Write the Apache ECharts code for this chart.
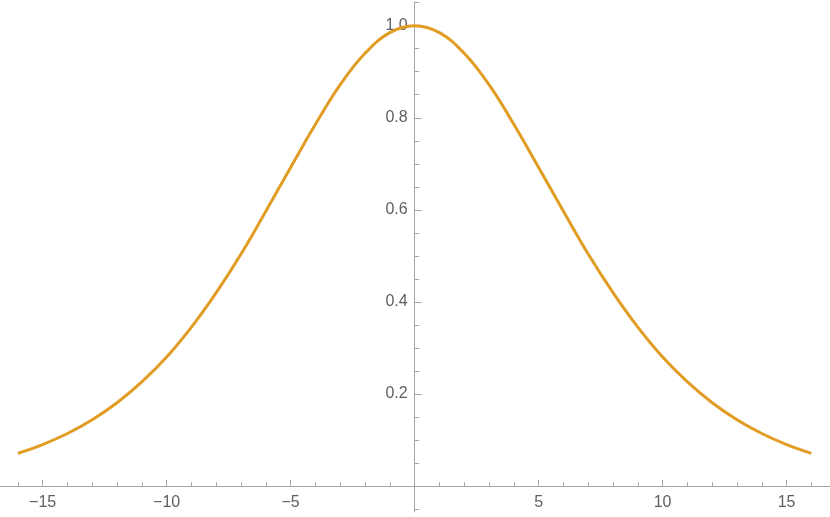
<!DOCTYPE html>
<html>
<head>
<meta charset="utf-8">
<script src="https://cdn.jsdelivr.net/npm/echarts@6/dist/echarts.min.js"></script>
<style>
html,body{margin:0;padding:0;background:#fff;}
#chart{width:830px;height:517px;}
</style>
</head>
<body>
<div id="chart"></div>
<script>
// x positions sampled along the curve
const xValues = [-16,-15,-14,-13,-12,-11,-10,-9,-8,-7,-6,-5,-4,-3,-2,-1,0,1,2,3,4,5,6,7,8,9,10,11,12,13,14,15,16];
// y values
const yValues = [0.071,0.090,0.114,0.144,0.181,0.226,0.280,0.345,0.420,0.504,0.597,0.692,0.786,0.872,0.940,0.985,1.000,0.985,0.940,0.872,0.786,0.692,0.597,0.504,0.420,0.345,0.280,0.226,0.181,0.144,0.114,0.090,0.071];
// tick labels
const xMajorTicks = [-15,-10,-5,5,10,15];
const xMinorTicks = [-16,-14,-13,-12,-11,-9,-8,-7,-6,-4,-3,-2,-1,1,2,3,4,6,7,8,9,11,12,13,14,16];
const yMajorTicks = [0.2,0.4,0.6,0.8,1.0];
const yMinorTicks = [-0.05,0.05,0.1,0.15,0.25,0.3,0.35,0.45,0.5,0.55,0.65,0.7,0.75,0.85,0.9,0.95,1.05];

const W = 830, H = 517, G_TOP = 2, G_BOTTOM = 5;
const axisColor = '#a6a6a6';
const labelStyle = {color:'#5f5f5f', fontSize:16, fontFamily:'Liberation Sans, Arial, sans-serif'};
const X_MIN = -16.72, X_MAX = 16.75, Y_MIN = -0.0565, Y_MAX = 1.0515;
// place the axes where the other axis's zero lies
const yAxisOffset = -((0 - X_MIN) / (X_MAX - X_MIN)) * W;
const xAxisOffset = -((0 - Y_MIN) / (Y_MAX - Y_MIN)) * (H - G_TOP - G_BOTTOM);

const chart = echarts.init(document.getElementById('chart'));
chart.setOption({
  animation:false,
  grid:{left:0,right:0,top:G_TOP,bottom:G_BOTTOM,containLabel:false,outerBoundsMode:'none'},
  xAxis:[
    {type:'value',min:X_MIN,max:X_MAX,position:'bottom',offset:xAxisOffset,
     axisLine:{show:true,onZero:false,lineStyle:{color:axisColor,width:1}},
     axisTick:{show:true,inside:true,length:6,customValues:xMajorTicks,lineStyle:{color:axisColor}},
     axisLabel:{show:true,customValues:xMajorTicks,margin:9,...labelStyle,
       formatter:v=>String(v).replace('-','\u2212')},
     splitLine:{show:false}},
    {type:'value',min:X_MIN,max:X_MAX,position:'bottom',offset:xAxisOffset,
     axisLine:{show:false,onZero:false},
     axisTick:{show:true,inside:true,length:3.5,customValues:xMinorTicks,lineStyle:{color:axisColor}},
     axisLabel:{show:false},
     splitLine:{show:false}}
  ],
  yAxis:[
    {type:'value',min:Y_MIN,max:Y_MAX,position:'left',offset:yAxisOffset,
     axisLine:{show:true,onZero:false,lineStyle:{color:axisColor,width:1}},
     axisTick:{show:true,inside:true,length:7,customValues:yMajorTicks,lineStyle:{color:axisColor}},
     axisLabel:{show:true,customValues:yMajorTicks,margin:7,...labelStyle,
       formatter:v=>v.toFixed(1)},
     splitLine:{show:false}},
    {type:'value',min:Y_MIN,max:Y_MAX,position:'left',offset:yAxisOffset,
     axisLine:{show:false,onZero:false},
     axisTick:{show:true,inside:true,length:4.5,customValues:yMinorTicks,lineStyle:{color:axisColor}},
     axisLabel:{show:false},
     splitLine:{show:false}}
  ],
  series:[{
    type:'line',xAxisIndex:0,yAxisIndex:0,
    data:xValues.map((x,i)=>[x,yValues[i]]),
    smooth:0.4,showSymbol:false,symbol:'none',
    lineStyle:{color:'#E19C24',width:3},
    z:5
  }]
});
</script>
</body>
</html>
